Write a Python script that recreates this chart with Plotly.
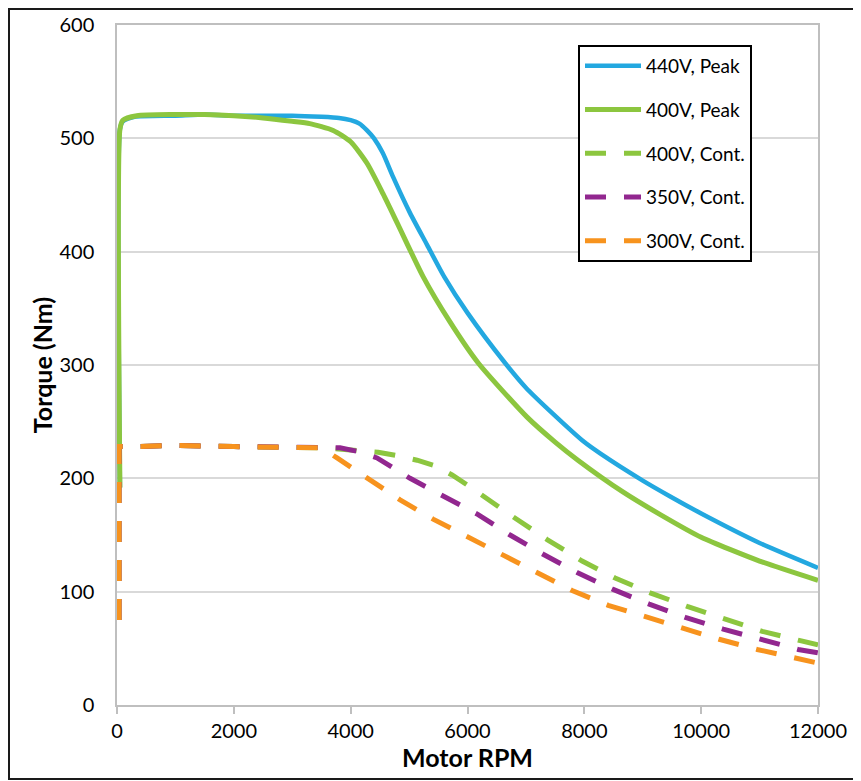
import plotly.graph_objects as go

# ---- data ----
rpm_440_peak = [50, 50, 100, 300, 1000, 1500, 2000, 2500, 3000, 3500, 3800, 4000, 4150, 4280, 4400, 4550, 4726,
                5017, 5308, 5600, 6000, 6640, 7000, 7400, 8000, 8270, 9000, 9470, 10000, 11000, 12000]
tq_440_peak = [192, 508, 515, 519, 520, 521, 520, 520, 520, 519, 518, 516, 513, 507, 500, 487, 466,
               434, 406, 378, 346, 302, 280, 260, 232, 222, 198, 184, 169, 143, 121]

rpm_400_peak = [50, 50, 100, 340, 1000, 1500, 2000, 2500, 3000, 3300, 3700, 4000, 4280, 4555, 4800,
                5240, 5700, 6180, 7020, 7500, 7890, 8660, 9300, 10000, 11000, 12000]
tq_400_peak = [192, 508, 516, 520, 521, 521, 520, 518, 515, 513, 507, 497, 478, 451, 425,
               378, 338, 302, 254, 232, 216, 188, 168, 148, 127, 110]

rpm_400_cont = [35, 35, 300, 1000, 2000, 3000, 3500, 4000, 4470, 4800, 5137, 5450, 5736, 6000, 6267, 6781, 7363,
                7962, 8527, 9127, 9760, 10377, 11045, 11678, 12000]
tq_400_cont = [75, 228, 228, 229, 228, 227, 227, 225, 223, 220, 216, 211, 203, 194, 184, 166, 146,
               127, 112, 99, 87, 76, 65, 57, 53]

rpm_350_cont = [35, 35, 300, 1000, 2000, 3000, 3500, 3818, 4100, 4452, 5017, 5616, 6182, 6729, 7295,
                7877, 8493, 9110, 9743, 10377, 11000, 11660, 12000]
tq_350_cont = [75, 228, 228, 229, 228, 227, 227, 227, 224, 218, 200, 184, 168, 150, 133,
               117, 102, 89, 77, 67, 58, 49, 46]

rpm_300_cont = [35, 35, 300, 1000, 2000, 3000, 3500, 3767, 4298, 4846, 5411, 6010, 6592, 7191, 7791,
                8408, 9041, 9675, 10308, 10959, 11610, 12000]
tq_300_cont = [75, 228, 228, 229, 228, 227, 227, 218, 200, 181, 164, 148, 132, 116, 101,
               88, 78, 68, 58, 49, 41, 37]

x_ticks = [0, 2000, 4000, 6000, 8000, 10000, 12000]
y_ticks = [0, 100, 200, 300, 400, 500, 600]

# ---- styling ----
BLUE = "#23A8E0"
GREEN = "#8CC63F"
PURPLE = "#92278F"
ORANGE = "#F7931E"
FONT = "Lato"
DASH = "21px,18px"

fig = go.Figure()
series = [
    ("440V, Peak", rpm_440_peak, tq_440_peak, BLUE, 4.5, "solid", "spline"),
    ("400V, Peak", rpm_400_peak, tq_400_peak, GREEN, 5, "solid", "spline"),
    ("400V, Cont.", rpm_400_cont, tq_400_cont, GREEN, 5, DASH, "linear"),
    ("350V, Cont.", rpm_350_cont, tq_350_cont, PURPLE, 5, DASH, "linear"),
    ("300V, Cont.", rpm_300_cont, tq_300_cont, ORANGE, 5, DASH, "linear"),
]
for name, xs, ys, col, w, dash, shp in series:
    line = dict(color=col, width=w, dash=dash, shape=shp)
    if shp == "spline":
        line["smoothing"] = 0.6
    fig.add_trace(go.Scatter(x=xs, y=ys, mode="lines", name=name, legendgroup=name, line=line))

# page body has an 8px margin; the figure is sized so plot area lands on the reference pixels
OFF = 8
W, H = 861 - OFF, 781 - OFF
L, R, T, B = 117 - OFF, 43, 25 - OFF, 76
pw, ph = W - L - R, H - T - B

def px(x):  # screen x -> paper
    return (x - OFF - L) / pw

def py(y):  # screen y -> paper
    return (H - B - (y - OFF)) / ph

fig.update_layout(
    width=W, height=H,
    margin=dict(l=L, r=R, t=T, b=B, pad=0, autoexpand=False),
    paper_bgcolor="white", plot_bgcolor="white",
    font=dict(family=FONT, color="#000000"),
    showlegend=True,
    legend=dict(
        x=px(578), y=py(45), xanchor="left", yanchor="top",
        bgcolor="white", bordercolor="#000000", borderwidth=2,
        font=dict(family=FONT, size=19, color="#000000"),
        tracegroupgap=16, itemwidth=56,
    ),
    xaxis=dict(
        range=[0, 12000], tickvals=x_ticks, ticktext=[str(v) for v in x_ticks],
        showgrid=False, zeroline=False,
        showline=True, linecolor="#BFBFBF", linewidth=1.5, mirror=True,
        ticks="outside", ticklen=7, tickcolor="#BFBFBF", tickwidth=1.5,
        tickfont=dict(family=FONT, size=20, color="#000000"),
        ticklabelstandoff=0, automargin=False,
        title=dict(text="<b>Motor RPM</b>", font=dict(family=FONT, size=25, color="#000000"), standoff=0),
    ),
    yaxis=dict(
        range=[0, 600], tickvals=y_ticks, ticktext=[str(v) for v in y_ticks],
        showgrid=True, gridcolor="#D9D9D9", gridwidth=1.5, zeroline=False,
        showline=True, linecolor="#BFBFBF", linewidth=1.5, mirror=True,
        ticks="", tickfont=dict(family=FONT, size=20, color="#000000"),
        ticklabelstandoff=17, automargin=False,
        title=dict(text="<b>Torque (Nm)</b>", font=dict(family=FONT, size=25, color="#000000"), standoff=0),
    ),
    shapes=[dict(
        type="rect", xref="paper", yref="paper",
        x0=px(9), x1=px(859), y0=py(779), y1=py(9),
        line=dict(color="#1A1A1A", width=2), fillcolor="rgba(0,0,0,0)", layer="below",
    )],
)

fig.write_html("out.html")
